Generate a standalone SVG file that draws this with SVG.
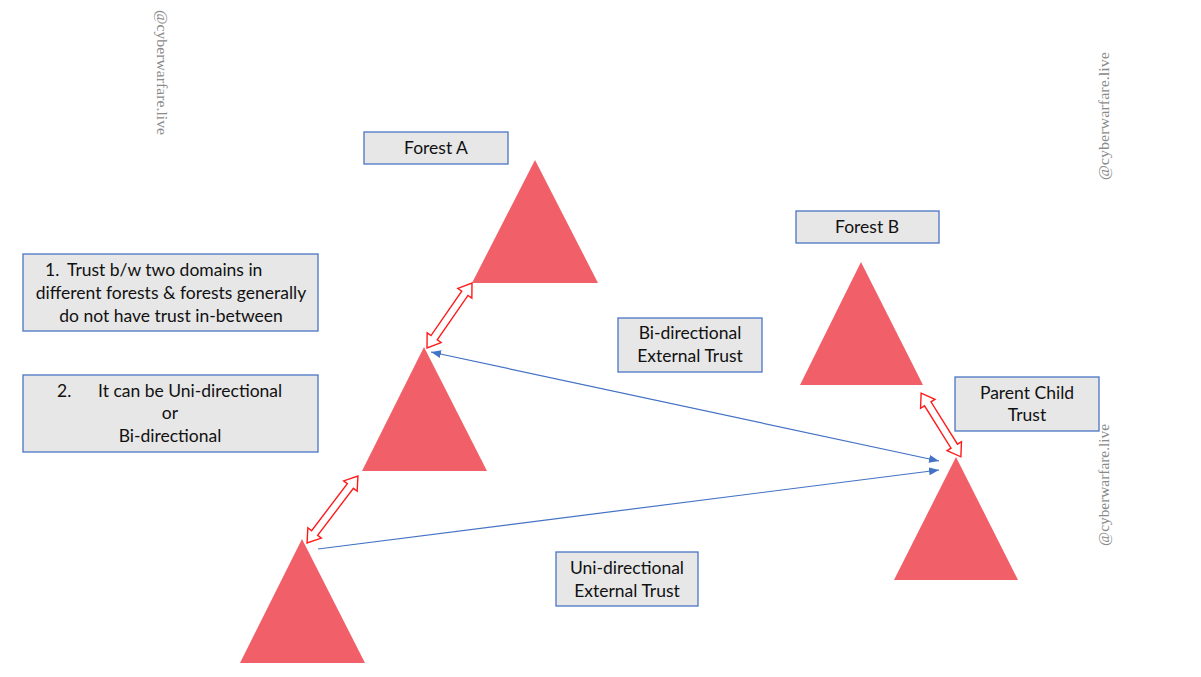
<svg xmlns="http://www.w3.org/2000/svg" width="1201" height="677" viewBox="0 0 1201 677">
  <style>
    .box { fill: #e7e7e7; stroke: #4a74c4; stroke-width: 1.3; }
    .lbl { font-family: Lato, "Open Sans", sans-serif; font-size: 17.5px; fill: #111; text-anchor: middle; }
    .tri { fill: #f15f68; }
    .dbl { fill: #ffffff; stroke: #ff1a1a; stroke-width: 1.4; stroke-linejoin: miter; }
    .link { stroke: #4472c4; stroke-width: 1.2; fill: none; }
    .wm { font-family: "Liberation Serif", "DejaVu Serif", serif; font-size: 14px; fill: #8a8a8a; }
  </style>
  <defs>
    <marker id="blueHead" markerUnits="userSpaceOnUse" markerWidth="12" markerHeight="10" refX="10" refY="4" orient="auto-start-reverse">
      <path d="M0,0 L10,4 L0,8 Z" fill="#4472c4"/>
    </marker>
  </defs>
  <rect width="1201" height="677" fill="#ffffff"/>

  <!-- watermarks -->
  <text class="wm" transform="translate(157,10) rotate(90)" textLength="125" lengthAdjust="spacingAndGlyphs">@cyberwarfare.live</text>
  <text class="wm" transform="translate(1109,180) rotate(-90)" textLength="128" lengthAdjust="spacingAndGlyphs">@cyberwarfare.live</text>
  <text class="wm" transform="translate(1109,546) rotate(-90)" textLength="122" lengthAdjust="spacingAndGlyphs">@cyberwarfare.live</text>

  <!-- domains -->
  <g id="domain-a-root"><polygon class="tri" points="535,160 472,283 598,283"/></g>
  <g id="domain-a-child"><polygon class="tri" points="424,347 362,471 487,471"/></g>
  <g id="domain-a-grandchild"><polygon class="tri" points="302,539 240,663 365,663"/></g>
  <g id="domain-b-root"><polygon class="tri" points="861,262 800,385 923,385"/></g>
  <g id="domain-b-child"><polygon class="tri" points="956,457 894,580 1018,580"/></g>

  <!-- connectors -->
  <g id="connectors">
    <polygon class="dbl" transform="translate(449.5,315.5) rotate(-55.3)" points="-39.5,0 -27,-8.5 -27,-3.8 27,-3.8 27,-8.5 39.5,0 27,8.5 27,3.8 -27,3.8 -27,8.5"/>
    <polygon class="dbl" transform="translate(332.5,509.5) rotate(-52.7)" points="-42,0 -29.5,-8.5 -29.5,-3.8 29.5,-3.8 29.5,-8.5 42,0 29.5,8.5 29.5,3.8 -29.5,3.8 -29.5,8.5"/>
    <polygon class="dbl" transform="translate(941,425) rotate(58)" points="-37.5,0 -25,-8.5 -25,-3.8 25,-3.8 25,-8.5 37.5,0 25,8.5 25,3.8 -25,3.8 -25,8.5"/>
    <line class="link" x1="431" y1="352" x2="939" y2="461" marker-start="url(#blueHead)" marker-end="url(#blueHead)"/>
    <line class="link" x1="318" y1="549" x2="939" y2="470" marker-end="url(#blueHead)"/>
  </g>

  <!-- labels -->
  <g id="forest-a-label">
    <rect class="box" x="364" y="132" width="144" height="32"/>
    <text class="lbl" x="436" y="154">Forest A</text>
  </g>
  <g id="forest-b-label">
    <rect class="box" x="796" y="211" width="143" height="32"/>
    <text class="lbl" x="867" y="233">Forest B</text>
  </g>
  <g id="note-1">
    <rect class="box" x="23" y="254" width="295" height="77"/>
    <text class="lbl" x="45" y="276" style="text-anchor:start">1.</text>
    <text class="lbl" x="67" y="276" style="text-anchor:start">Trust b/w two domains in</text>
    <text class="lbl" x="171" y="299">different forests &amp; forests generally</text>
    <text class="lbl" x="171" y="322">do not have trust in-between</text>
  </g>
  <g id="note-2">
    <rect class="box" x="23" y="375" width="295" height="77"/>
    <text class="lbl" x="57" y="397" style="text-anchor:start">2.</text>
    <text class="lbl" x="98" y="397" style="text-anchor:start">It can be Uni-directional</text>
    <text class="lbl" x="170" y="419">or</text>
    <text class="lbl" x="170" y="442">Bi-directional</text>
  </g>
  <g id="bi-trust-label">
    <rect class="box" x="618" y="318" width="144" height="54"/>
    <text class="lbl" x="690" y="339">Bi-directional</text>
    <text class="lbl" x="690" y="362">External Trust</text>
  </g>
  <g id="parent-child-label">
    <rect class="box" x="955" y="377" width="144" height="54"/>
    <text class="lbl" x="1027" y="399">Parent Child</text>
    <text class="lbl" x="1027" y="421">Trust</text>
  </g>
  <g id="uni-trust-label">
    <rect class="box" x="556" y="552" width="142" height="54"/>
    <text class="lbl" x="627" y="574">Uni-directional</text>
    <text class="lbl" x="627" y="597">External Trust</text>
  </g>
</svg>
